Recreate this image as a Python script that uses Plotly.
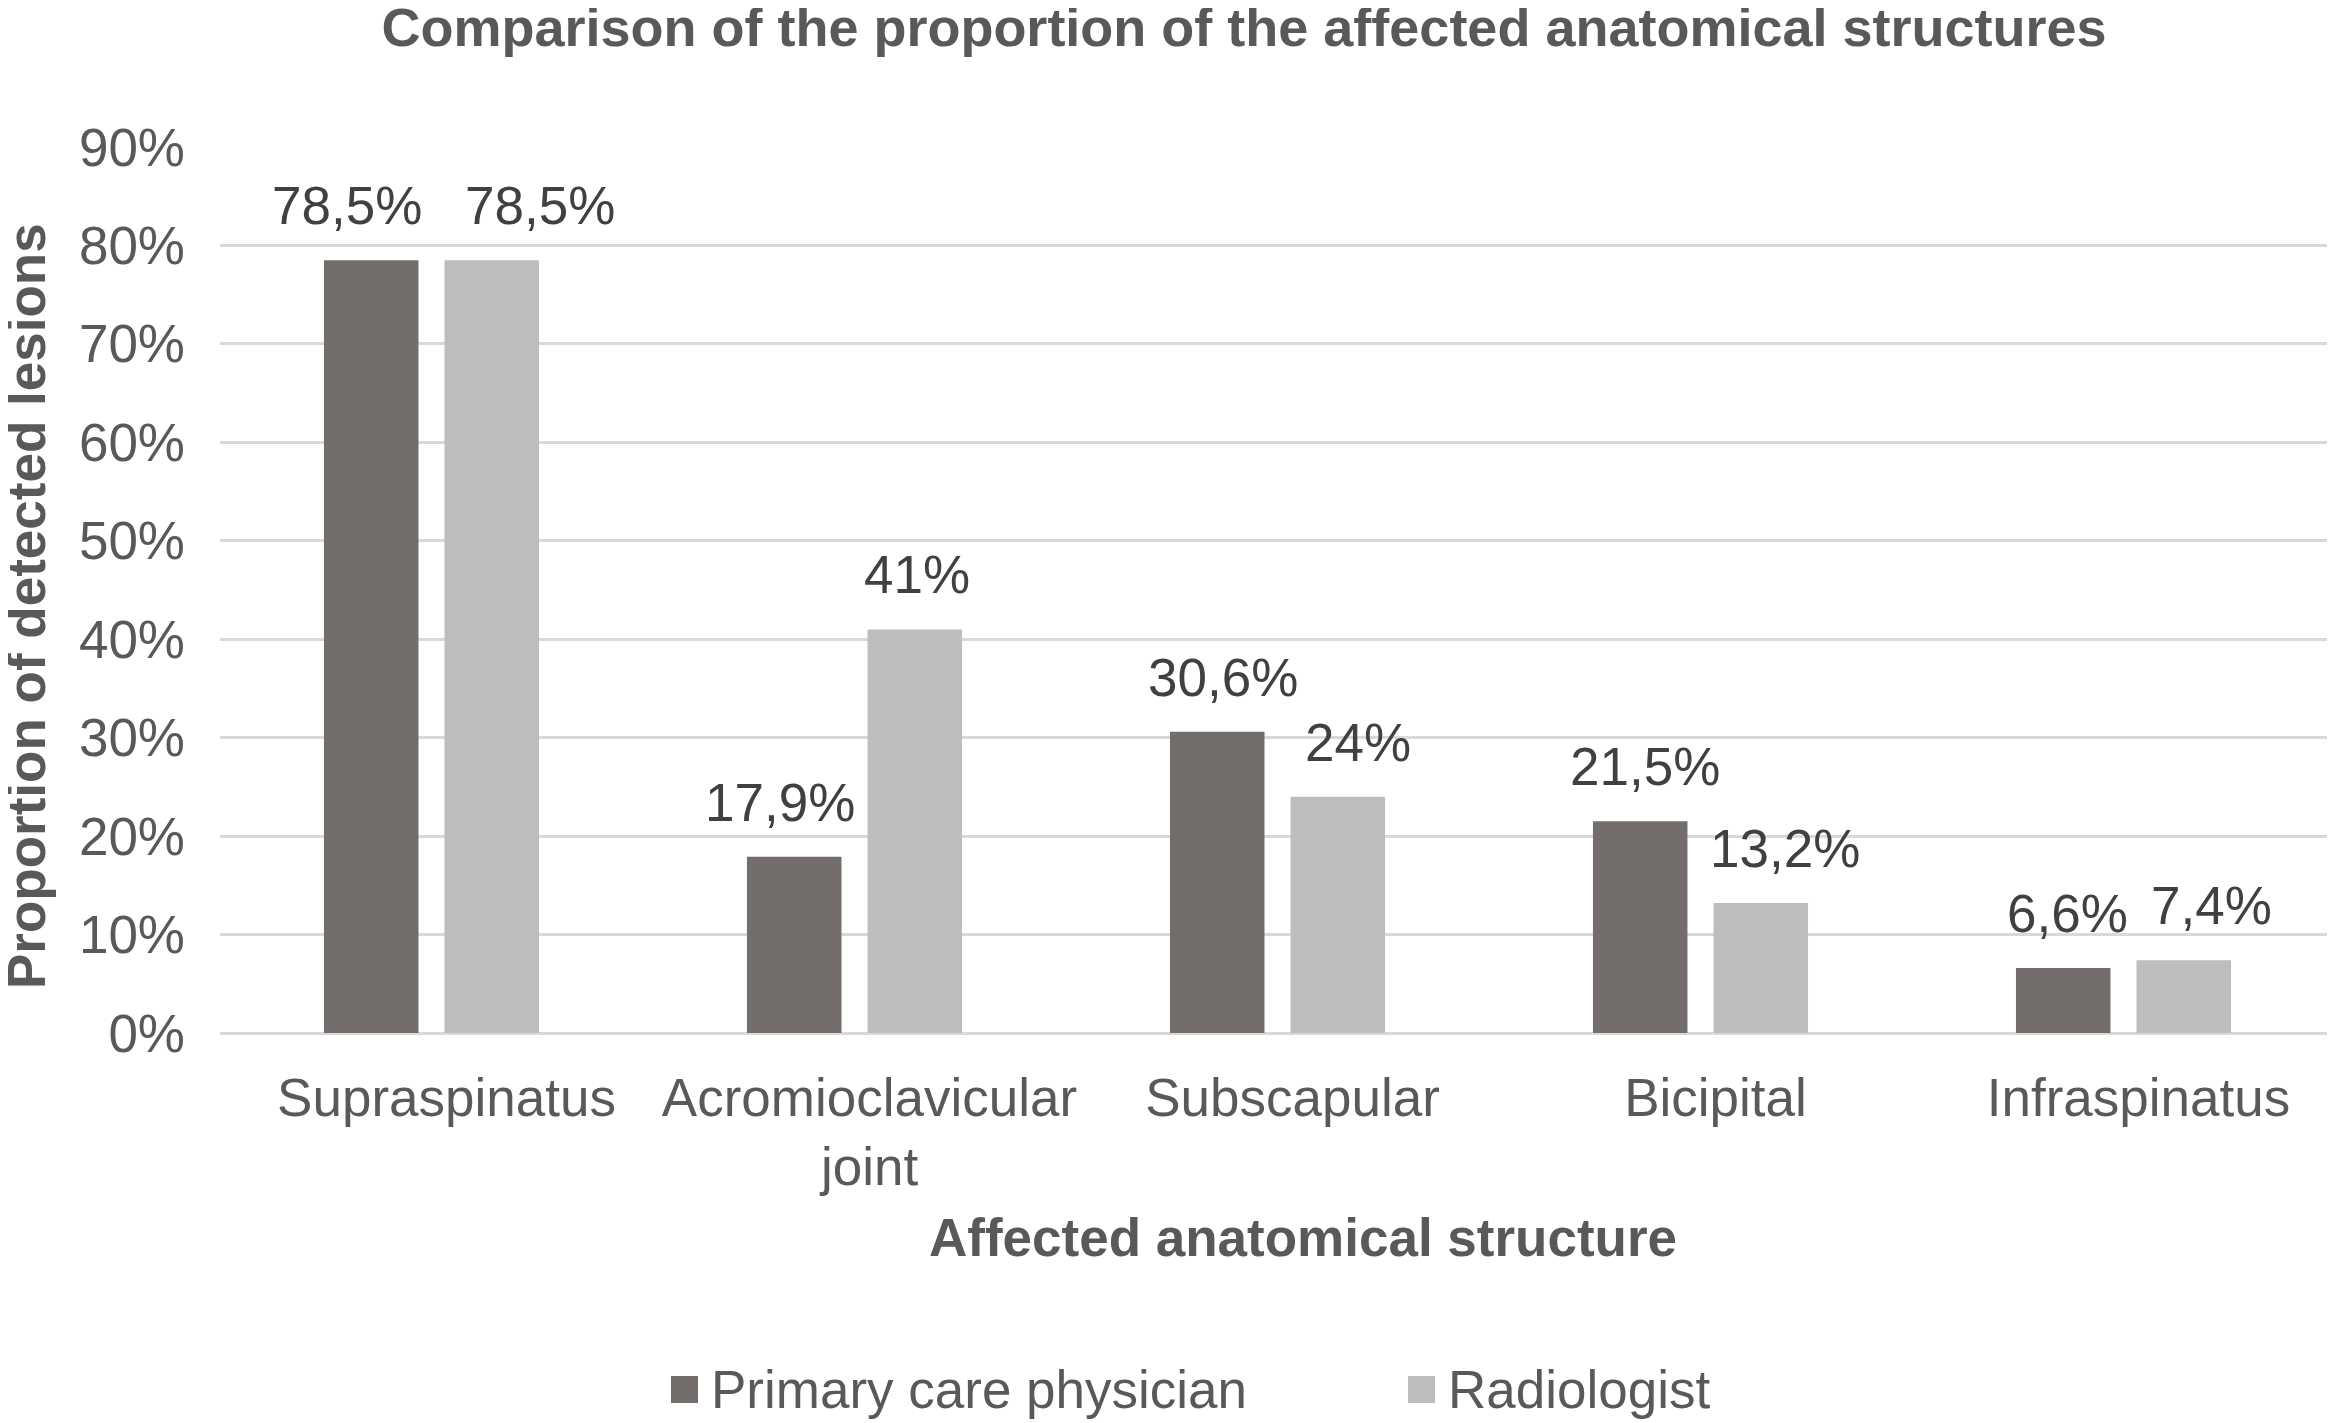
import plotly.graph_objects as go

# data
categories = ["Supraspinatus", "Acromioclavicular joint", "Subscapular", "Bicipital", "Infraspinatus"]
tick_labels = ["Supraspinatus", "Acromioclavicular<br>joint", "Subscapular", "Bicipital", "Infraspinatus"]
series_names = ["Primary care physician", "Radiologist"]
primary_care = [78.5, 17.9, 30.6, 21.5, 6.6]
radiologist = [78.5, 41, 24, 13.2, 7.4]
y_ticks = [0, 10, 20, 30, 40, 50, 60, 70, 80, 90]
y_tick_labels = ["0%", "10%", "20%", "30%", "40%", "50%", "60%", "70%", "80%", "90%"]

TEXT = "#595959"
LABEL = "#404040"
GRID = "#d9d9d9"
COLORS = ["#736e6b", "#bdbdbd"]
FONT = "Liberation Sans, Arial, sans-serif"
SIZE = 53

# page is drawn inside the default 8px body margin, so the figure is a bit smaller
BODY = 8
W, H = 2335, 1423
PLOT_L, PLOT_R, PLOT_T, PLOT_B = 220, 2335, 147, 1033

# excel moved some labels sideways so they don't collide (px)
BAR_OFFSET = 60.5
label_nudge = [[-24, -14, 6, 5, 4], [48, 2, 20, 24, 27]]


def px_x(x):
    return (x - PLOT_L) / (PLOT_R - PLOT_L)


def px_y(y):
    return (PLOT_B - y) / (PLOT_B - PLOT_T)


def pct(v):
    # excel style label: comma decimal, no trailing ,0
    return f"{v:g}".replace(".", ",") + "%"


series = [primary_care, radiologist]

fig = go.Figure()
for name, vals, col in zip(series_names, series, COLORS):
    fig.add_trace(go.Bar(x=categories, y=vals, name=name, showlegend=False,
                         marker=dict(color=col, line=dict(width=0))))

for k, vals in enumerate(series):
    side = -1 if k == 0 else 1
    for i, (cat, v) in enumerate(zip(categories, vals)):
        fig.add_annotation(x=cat, y=v, xref="x", yref="y", text=pct(v), showarrow=False,
                           xanchor="center", yanchor="bottom",
                           xshift=side * BAR_OFFSET + label_nudge[k][i], yshift=23,
                           font=dict(size=SIZE, color=LABEL, family=FONT))

# axis titles
fig.add_annotation(x=px_x(26), y=px_y(606), xref="paper", yref="paper",
                   text="<b>Proportion of detected lesions</b>", textangle=-90, showarrow=False,
                   xanchor="center", yanchor="middle", font=dict(size=SIZE, color=TEXT, family=FONT))
fig.add_annotation(x=px_x(1303), y=px_y(1237), xref="paper", yref="paper",
                   text="<b>Affected anatomical structure</b>", showarrow=False,
                   xanchor="center", yanchor="middle", font=dict(size=SIZE, color=TEXT, family=FONT))

# legend drawn by hand so the keys get excel's big squares
legend_x = [671, 1408]
for name, col, lx in zip(series_names, COLORS, legend_x):
    fig.add_shape(type="rect", xref="paper", yref="paper",
                  x0=px_x(lx), x1=px_x(lx + 27), y0=px_y(1403), y1=px_y(1376),
                  fillcolor=col, line=dict(width=0))
    fig.add_annotation(x=px_x(lx + 38), y=px_y(1389), xref="paper", yref="paper", text=name,
                       showarrow=False, xanchor="left", yanchor="middle",
                       font=dict(size=SIZE, color=TEXT, family=FONT))

fig.update_layout(
    width=W - BODY, height=H - BODY, autosize=False,
    margin=dict(l=PLOT_L - BODY, r=W - PLOT_R, t=PLOT_T - BODY, b=H - PLOT_B, pad=0),
    paper_bgcolor="white", plot_bgcolor="white",
    font=dict(family=FONT, size=SIZE, color=TEXT),
    title=dict(text="<b>Comparison of the proportion of the affected anatomical structures</b>",
               x=(1244 - BODY) / (W - BODY), xref="container", xanchor="center",
               y=1 - (27 - BODY) / (H - BODY), yref="container", yanchor="middle",
               font=dict(size=54, color=TEXT, family=FONT)),
    barmode="group", bargap=0.43, bargroupgap=0.216,
    showlegend=False,
)
fig.update_xaxes(tickvals=categories, ticktext=tick_labels, showgrid=False, showline=False,
                 ticks="", ticklabelstandoff=29, ticklabelshift=15,
                 tickfont=dict(size=SIZE, color=TEXT, family=FONT))
fig.update_yaxes(range=[0, 90], tickvals=y_ticks, ticktext=y_tick_labels, showgrid=True,
                 gridcolor=GRID, gridwidth=3, zeroline=True, zerolinecolor=GRID, zerolinewidth=3,
                 showline=False, ticks="", ticklabelstandoff=34,
                 tickfont=dict(size=SIZE, color=TEXT, family=FONT))

fig.write_html("out.html")
